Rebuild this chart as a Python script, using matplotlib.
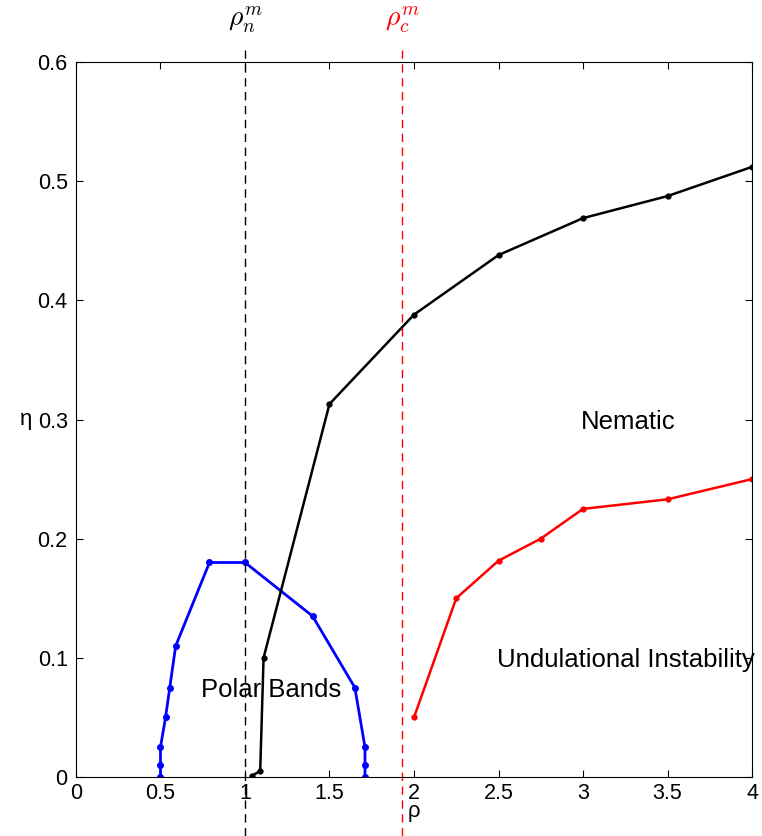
import matplotlib
matplotlib.use('Agg')
import matplotlib.pyplot as plt

plt.rcParams['font.family'] = ['Liberation Sans', 'DejaVu Sans']
plt.rcParams['mathtext.fontset'] = 'cm'

# polar bands boundary
rho_blue = [0.5, 0.5, 0.5, 0.53, 0.555, 0.59, 0.79, 1.0, 1.4, 1.65, 1.71, 1.71, 1.71]
eta_blue = [0.0, 0.01, 0.025, 0.05, 0.075, 0.11, 0.18, 0.18, 0.135, 0.075, 0.025, 0.01, 0.0]

# nematic boundary
rho_black = [1.04, 1.09, 1.11, 1.5, 2.0, 2.5, 3.0, 3.5, 4.0]
eta_black = [0.001, 0.005, 0.1, 0.313, 0.388, 0.438, 0.469, 0.4875, 0.512]

# undulational instability boundary
rho_red = [2.0, 2.25, 2.5, 2.75, 3.0, 3.5, 4.0]
eta_red = [0.05, 0.15, 0.1815, 0.2, 0.225, 0.233, 0.25]

rho_n = 1.0
rho_c = 1.93

fig = plt.figure(figsize=(7.62, 8.36), dpi=100)
ax = fig.add_axes([0.0997, 0.0706, 0.8872, 0.8552])

ax.plot(rho_blue, eta_blue, '.-', color='b', lw=2, ms=8)
ax.plot(rho_black, eta_black, '.-', color='k', lw=1.8, ms=7)
ax.plot(rho_red, eta_red, '.-', color='r', lw=1.8, ms=7)

ax.axvline(rho_n, ymin=-0.0825, ymax=1.017, color='k', ls='--', lw=1, clip_on=False, dashes=(6, 4))
ax.axvline(rho_c, ymin=-0.0825, ymax=1.017, color='r', ls='--', lw=1, clip_on=False, dashes=(6, 4))
ax.text(rho_n, 1.058, r'$\rho_n^m$', transform=ax.get_xaxis_transform(), ha='center', va='center', fontsize=20)
ax.text(rho_c, 1.058, r'$\rho_c^m$', transform=ax.get_xaxis_transform(), ha='center', va='center', fontsize=20, color='r')

ax.text(3.27, 0.298, 'Nematic', ha='center', va='center', fontsize=18.5)
ax.text(2.49, 0.098, 'Undulational Instability', ha='left', va='center', fontsize=18.5)
ax.text(0.74, 0.073, 'Polar Bands', ha='left', va='center', fontsize=18.5)

ax.set_xlim(0, 4)
ax.set_ylim(0, 0.6)
ax.set_xticks([0, 0.5, 1, 1.5, 2, 2.5, 3, 3.5, 4])
ax.set_xticklabels(['0', '0.5', '1', '1.5', '2', '2.5', '3', '3.5', '4'])
ax.set_yticks([0, 0.1, 0.2, 0.3, 0.4, 0.5, 0.6])
ax.set_yticklabels(['0', '0.1', '0.2', '0.3', '0.4', '0.5', '0.6'])
ax.tick_params(direction='in', top=True, right=True, labelsize=15.5, length=5)
ax.tick_params(axis='y', pad=6)
ax.tick_params(axis='x', pad=4)
ax.set_xlabel('ρ', fontsize=16, labelpad=-2)
ax.set_ylabel('η', fontsize=16, rotation=0, labelpad=8, va='center')

fig.savefig('out.png', dpi=100)
